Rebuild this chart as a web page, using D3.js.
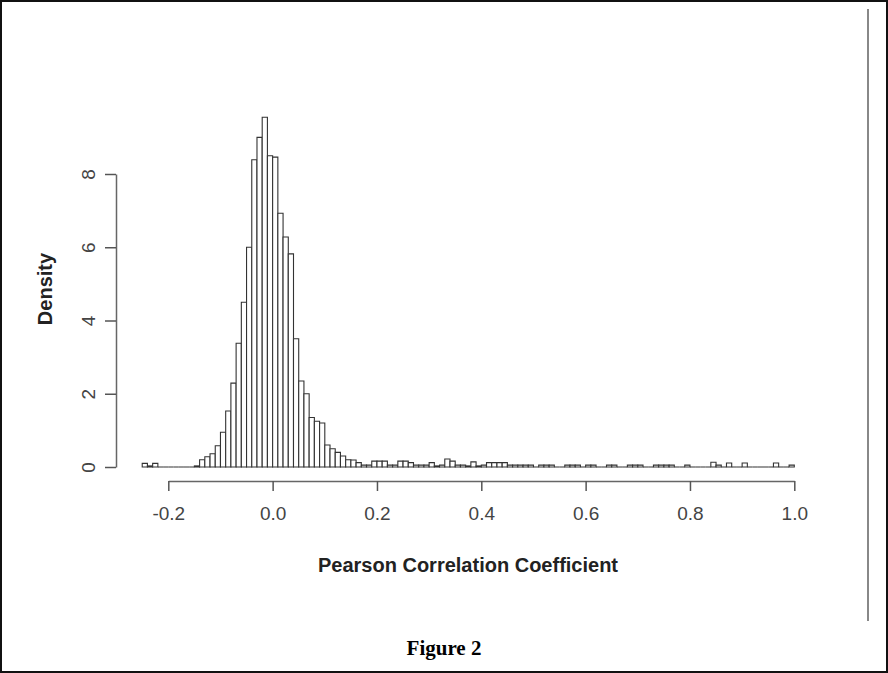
<!DOCTYPE html>
<html>
<head>
<meta charset="utf-8">
<script src="https://cdn.jsdelivr.net/npm/d3@7"></script>
<style>
  body { margin: 0; background: #fff; }
  svg { display: block; }
  .tick-label { font-family: "Liberation Sans", Arial, sans-serif; font-size: 19px; fill: #444; }
  .axis-title { font-family: "Liberation Sans", Arial, sans-serif; font-size: 20px; font-weight: bold; fill: #222; }
  .caption { font-family: "Liberation Serif", "Times New Roman", serif; font-size: 21px; font-weight: bold; fill: #000; }
</style>
</head>
<body>
<div id="chart"></div>
<script>
// Histogram of Pearson correlation coefficients (density scale)
const breakStart = -0.25;
const breakStep = 0.01;
const density = [
  0.1, 0.03, 0.1, 0, 0, 0, 0, 0, 0, 0,            // -0.25 .. -0.16
  0.03, 0.2, 0.28, 0.36, 0.58, 0.95, 1.53, 2.29, 3.38, 4.5,   // -0.15 .. -0.06
  6.0, 8.39, 9.0, 9.55, 8.5, 8.46, 6.93, 6.28, 5.82, 3.5,     // -0.05 .. 0.04
  2.35, 2.0, 1.35, 1.25, 1.2, 0.6, 0.5, 0.4, 0.3, 0.2,        // 0.05 .. 0.14
  0.19, 0.12, 0.05, 0.05, 0.16, 0.16, 0.16, 0.05, 0.05, 0.16, // 0.15 .. 0.24
  0.16, 0.12, 0.05, 0.05, 0.05, 0.12, 0.03, 0.05, 0.22, 0.16, // 0.25 .. 0.34
  0.05, 0.05, 0.03, 0.14, 0.03, 0.05, 0.12, 0.12, 0.12, 0.12, // 0.35 .. 0.44
  0.05, 0.05, 0.05, 0.05, 0.05, 0, 0.05, 0.05, 0.05, 0,       // 0.45 .. 0.54
  0, 0.05, 0.05, 0.05, 0, 0.05, 0.05, 0, 0, 0.05,             // 0.55 .. 0.64
  0.05, 0, 0, 0.05, 0.05, 0.05, 0, 0, 0.05, 0.05,             // 0.65 .. 0.74
  0.05, 0.05, 0, 0, 0.05, 0, 0, 0, 0, 0.13,                   // 0.75 .. 0.84
  0.05, 0, 0.11, 0, 0, 0.11, 0, 0, 0, 0,                      // 0.85 .. 0.94
  0, 0.11, 0, 0, 0.05                                         // 0.95 .. 0.99
];
const xTicks = [-0.2, 0.0, 0.2, 0.4, 0.6, 0.8, 1.0];
const yTicks = [0, 2, 4, 6, 8];
const xTitle = 'Pearson Correlation Coefficient';
const yTitle = 'Density';
const caption = 'Figure 2';

const width = 888, height = 673;

const svg = d3.select('#chart').append('svg')
  .attr('width', width)
  .attr('height', height);

// Frame
svg.append('rect')
  .attr('x', 1).attr('y', 1)
  .attr('width', width - 2).attr('height', height - 2)
  .attr('fill', 'none')
  .attr('stroke', '#111')
  .attr('stroke-width', 2);

svg.append('line')
  .attr('x1', 868).attr('x2', 868)
  .attr('y1', 9).attr('y2', 621)
  .attr('stroke', '#888')
  .attr('stroke-width', 2);

// Scales
const xScale = d3.scaleLinear()
  .domain([-0.2, 1.0])
  .range([168.3, 794.3]);

const yScale = d3.scaleLinear()
  .domain([0, 8])
  .range([467, 174]);

const bins = density.map((d, i) => ({
  x0: breakStart + i * breakStep,
  x1: breakStart + (i + 1) * breakStep,
  value: d
}));

// Bars as closed paths so empty bins still draw along the baseline, like R's hist()
svg.append('g').selectAll('path').data(bins)
  .enter().append('path')
  .attr('d', d => {
    const p = d3.path();
    p.rect(xScale(d.x0), yScale(d.value), xScale(d.x1) - xScale(d.x0), yScale(0) - yScale(d.value));
    return p.toString();
  })
  .attr('fill', '#fff')
  .attr('stroke', '#333')
  .attr('stroke-width', 1.1);

// X axis (R style, offset below the plot)
const xAxis = d3.axisBottom(xScale)
  .tickValues(xTicks)
  .tickFormat(d => d.toFixed(1))
  .tickSize(10)
  .tickPadding(16)
  .tickSizeOuter(0);

const xAxisGroup = svg.append('g')
  .attr('transform', 'translate(0, 481)')
  .call(xAxis);
xAxisGroup.select('.domain').attr('stroke', '#666').attr('stroke-width', 1.5);
xAxisGroup.selectAll('.tick line').attr('stroke', '#555').attr('stroke-width', 1.5);
xAxisGroup.selectAll('.tick text').attr('class', 'tick-label').attr('fill', null);

// Y axis
const yAxis = d3.axisLeft(yScale)
  .tickValues(yTicks)
  .tickFormat(d3.format('d'))
  .tickSize(11)
  .tickSizeOuter(0);

const yAxisGroup = svg.append('g')
  .attr('transform', 'translate(116, 0)')
  .call(yAxis);
yAxisGroup.select('.domain').attr('stroke', '#666').attr('stroke-width', 1.5);
yAxisGroup.selectAll('.tick line').attr('stroke', '#555').attr('stroke-width', 1.5);
yAxisGroup.selectAll('.tick text')
  .attr('class', 'tick-label')
  .attr('fill', null)
  .attr('x', null).attr('dy', null)
  .attr('text-anchor', 'middle')
  .attr('transform', 'translate(-21, 0) rotate(-90)');

// Titles
svg.append('text')
  .attr('class', 'axis-title')
  .attr('x', 468).attr('y', 572)
  .attr('text-anchor', 'middle')
  .text(xTitle);

svg.append('text')
  .attr('class', 'axis-title')
  .attr('text-anchor', 'middle')
  .attr('transform', 'translate(52, 289) rotate(-90)')
  .text(yTitle);

svg.append('text')
  .attr('class', 'caption')
  .attr('x', 444).attr('y', 655)
  .attr('text-anchor', 'middle')
  .text(caption);
</script>
</body>
</html>
